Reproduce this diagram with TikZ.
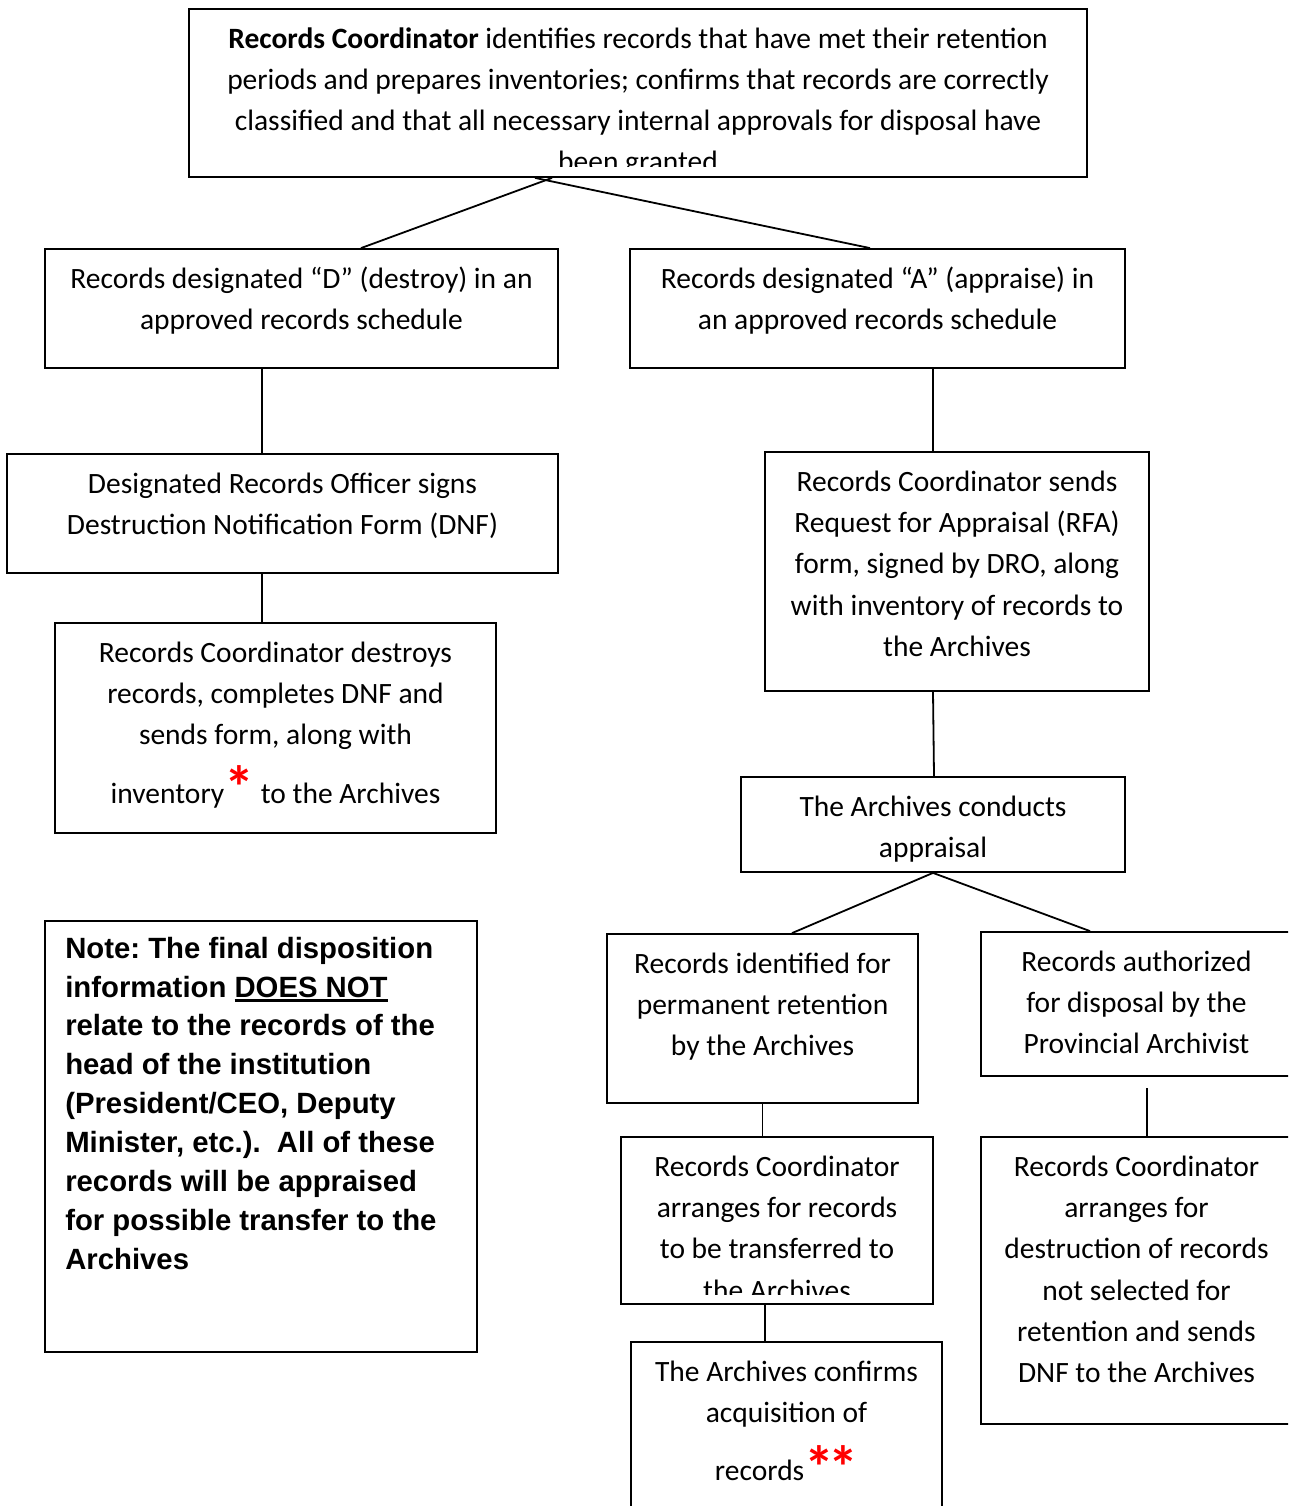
\documentclass[tikz,border=0pt]{standalone}
\usepackage{fontspec}
\setmainfont{Carlito}
\newfontfamily\notefont{Liberation Sans}
\usetikzlibrary{calc,positioning}

\newcommand{\boxlines}[1]{\parbox[t]{1000pt}{\centering #1}}
\newcommand{\redstar}[2]{\raisebox{#1}{\textcolor{red}{\fontsize{60}{60}\selectfont\bfseries #2}}}
\newcommand{\ulnote}[1]{\setbox0\hbox{#1}\rlap{\rule[-5pt]{\wd0}{2.6pt}}\box0}

\begin{document}
\begin{tikzpicture}[x=1pt,y=-1pt]
\tikzset{stepbox/.style={draw,line width=1.8pt,inner sep=0pt},
steptext/.style={anchor=base,inner sep=0pt,font=\fontsize{29.5}{41.3}\selectfont},
notetext/.style={anchor=base west,inner sep=0pt,font=\notefont\bfseries\fontsize{29.3}{38.9}\selectfont},
link/.style={line width=1.8pt}}

\useasboundingbox (0,0) rectangle (1288,1506);
\clip (0,0) rectangle (1288,1506);

%% Boxes
\node (top) [stepbox,minimum width=898,minimum height=168] at (638,93) {};
\node (dbox) [stepbox,minimum width=513,minimum height=119] at (301.5,308.5) {};
\node (abox) [stepbox,minimum width=495,minimum height=119] at (877.5,308.5) {};
\node (dro) [stepbox,minimum width=551,minimum height=119] at (282.5,513.5) {};
\node (destroy) [stepbox,minimum width=441,minimum height=210] at (275.5,728) {};
\node (rfa) [stepbox,minimum width=384,minimum height=239] at (957,571.5) {};
\node (appr) [stepbox,minimum width=384,minimum height=95] at (933,824.5) {};
\node (perm) [stepbox,minimum width=311,minimum height=169] at (762.5,1018.5) {};
\node (disp) [stepbox,minimum width=311,minimum height=144] at (1136.5,1004) {};
\node (transfer) [stepbox,minimum width=312,minimum height=167] at (777,1220.5) {};
\node (confirm) [stepbox,minimum width=311,minimum height=180] at (786.5,1432) {};
\node (destr) [stepbox,minimum width=311,minimum height=287] at (1136.5,1280.5) {};
\node (note) [stepbox,minimum width=432,minimum height=431] at (261,1136.5) {};

%% Texts
\begin{scope}
\clip (top.north west) rectangle ($(top.south east)+(0,-11)$);
\node (toptxt) [steptext] at ($(top.north)+(0,40)$) {\boxlines{\textbf{Records Coordinator} identifies records that have met their retention\\
periods and prepares inventories; confirms that records are correctly\\
classified and that all necessary internal approvals for disposal have\\
been granted}};
\end{scope}
\node (dtxt) [steptext] at ($(dbox.north)+(0,40)$) {\boxlines{Records designated “D” (destroy) in an\\approved records schedule}};
\node (atxt) [steptext] at ($(abox.north)+(0,40)$) {\boxlines{Records designated “A” (appraise) in\\an approved records schedule}};
\node (drotxt) [steptext] at ($(dro.north)+(0,40)$) {\boxlines{Designated Records Officer signs\\Destruction Notification Form (DNF)}};
\node (destroytxt) [steptext] at ($(destroy.north)+(0,40)$) {\boxlines{Records Coordinator destroys\\records, completes DNF and\\sends form, along with\\[15pt]
inventory\redstar{-5pt}{*} to the Archives}};
\node (rfatxt) [steptext] at ($(rfa.north)+(0,40)$) {\boxlines{Records Coordinator sends\\Request for Appraisal (RFA)\\form, signed by DRO, along\\with inventory of records to\\the Archives}};
\node (apprtxt) [steptext] at ($(appr.north)+(0,40)$) {\boxlines{The Archives conducts\\appraisal}};
\node (permtxt) [steptext] at ($(perm.north)+(0,40)$) {\boxlines{Records identified for\\permanent retention\\by the Archives}};
\node (disptxt) [steptext] at ($(disp.north)+(0,40)$) {\boxlines{Records authorized\\for disposal by the\\Provincial Archivist}};
\begin{scope}
\clip (transfer.north west) rectangle ($(transfer.south east)+(0,-10)$);
\node (transfertxt) [steptext] at ($(transfer.north)+(0,40)$) {\boxlines{Records Coordinator\\arranges for records\\to be transferred to\\the Archives}};
\end{scope}
\node (confirmtxt) [steptext] at ($(confirm.north)+(0,40)$) {\boxlines{The Archives confirms\\acquisition of\\[17pt]records\redstar{-8pt}{*\kern-6pt*}}};
\node (destrtxt) [steptext] at ($(destr.north)+(0,40)$) {\boxlines{Records Coordinator\\arranges for\\destruction of records\\not selected for\\retention and sends\\DNF to the Archives}};
\node (notetxt) [notetext] at ($(note.north west)+(21,38)$) {\parbox[t]{420pt}{\raggedright\frenchspacing
Note: The final disposition\\
information \ulnote{DOES NOT}\\
relate to the records of the\\
head of the institution\\
(President/CEO, Deputy\\
Minister, etc.).\ \ All of these\\
records will be appraised\\
for possible transfer to the\\
Archives}};

%% Edges
\draw[link] ($(top.south)+(-86,0)$) -- ($(dbox.north)+(59.5,0)$);
\draw[link] ($(top.south)+(-103,0)$) -- ($(abox.north)+(-7.5,0)$);
\draw[link] ($(dbox.south)+(-39.5,0)$) -- ($(dro.north)+(-20.5,0)$);
\draw[link] ($(dro.south)+(-20.5,0)$) -- ($(destroy.north)+(-13.5,0)$);
\draw[link] ($(abox.south)+(55.5,0)$) -- ($(rfa.north)+(-24,0)$);
\draw[link] ($(rfa.south)+(-24,0)$) -- ($(appr.north)+(1,0)$);
\draw[link] (appr.south) -- ($(perm.north)+(29.5,0)$);
\draw[link] (appr.south) -- ($(disp.north)+(-46.5,0)$);
\draw[link] (perm.south) -- (perm.south |- transfer.north);
\draw[link] ($(transfer.south)+(-12,0)$) -- ($(confirm.north)+(-21.5,0)$);
\coordinate (dispfoot) at ($(destr.north)+(10.5,-48)$);
\draw[link] (dispfoot) -- ($(destr.north)+(10.5,0)$);

\end{tikzpicture}
\end{document}
